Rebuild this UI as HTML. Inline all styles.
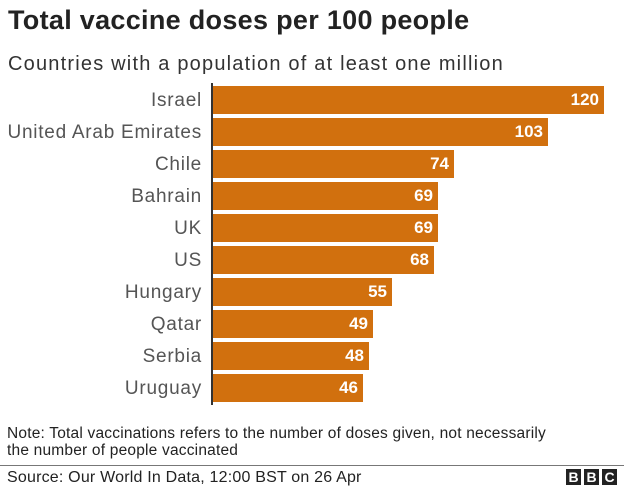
<!DOCTYPE html>
<html><head><style>
body{margin:0;width:624px;height:487px;background:#fff;font-family:"Liberation Sans",sans-serif;position:relative;overflow:hidden}
.t{position:absolute;left:8px;top:5px;font-size:27px;font-weight:bold;color:#222;letter-spacing:0.3px}
.s{position:absolute;left:8px;top:53px;font-size:20px;color:#333;letter-spacing:1.2px}
.lab{position:absolute;right:422px;font-size:19px;color:#555;text-align:right;white-space:nowrap;letter-spacing:0.75px}
.bar{position:absolute;left:213px;height:28px;background:#d1700e}
.v{position:absolute;right:5px;top:4px;font-size:17px;font-weight:bold;color:#fff}
.ax{position:absolute;left:211px;top:83px;width:2px;height:322px;background:#333}
.n{position:absolute;left:7px;top:425px;font-size:15.5px;color:#222;line-height:17px;letter-spacing:0.2px}
.hr{position:absolute;left:0;top:465px;width:624px;height:1px;background:#777}
.src{position:absolute;left:7px;top:469px;font-size:16px;color:#222;letter-spacing:0.2px}
.bbc{position:absolute;top:469px;display:flex;gap:3px;left:566px}
.bbc span{width:15px;height:16px;background:#222;color:#fff;font-weight:bold;font-size:14px;text-align:center;line-height:16px}
</style></head><body>
<div class="t">Total vaccine doses per 100 people</div>
<div class="s">Countries with a population of at least one million</div>
<div class="lab" style="top:90px">Israel</div>
<div class="lab" style="top:122px">United Arab Emirates</div>
<div class="lab" style="top:154px">Chile</div>
<div class="lab" style="top:186px">Bahrain</div>
<div class="lab" style="top:218px">UK</div>
<div class="lab" style="top:250px">US</div>
<div class="lab" style="top:282px">Hungary</div>
<div class="lab" style="top:314px">Qatar</div>
<div class="lab" style="top:346px">Serbia</div>
<div class="lab" style="top:378px">Uruguay</div>
<div class="bar" style="top:86px;width:391px"><span class="v">120</span></div>
<div class="bar" style="top:118px;width:335px"><span class="v">103</span></div>
<div class="bar" style="top:150px;width:241px"><span class="v">74</span></div>
<div class="bar" style="top:182px;width:225px"><span class="v">69</span></div>
<div class="bar" style="top:214px;width:225px"><span class="v">69</span></div>
<div class="bar" style="top:246px;width:221px"><span class="v">68</span></div>
<div class="bar" style="top:278px;width:179px"><span class="v">55</span></div>
<div class="bar" style="top:310px;width:160px"><span class="v">49</span></div>
<div class="bar" style="top:342px;width:156px"><span class="v">48</span></div>
<div class="bar" style="top:374px;width:150px"><span class="v">46</span></div>
<div class="ax"></div>
<div class="n">Note: Total vaccinations refers to the number of doses given, not necessarily<br>the number of people vaccinated</div>
<div class="hr"></div>
<div class="src">Source: Our World In Data, 12:00 BST on 26 Apr</div>
<div class="bbc"><span>B</span><span>B</span><span>C</span></div>
</body></html>
